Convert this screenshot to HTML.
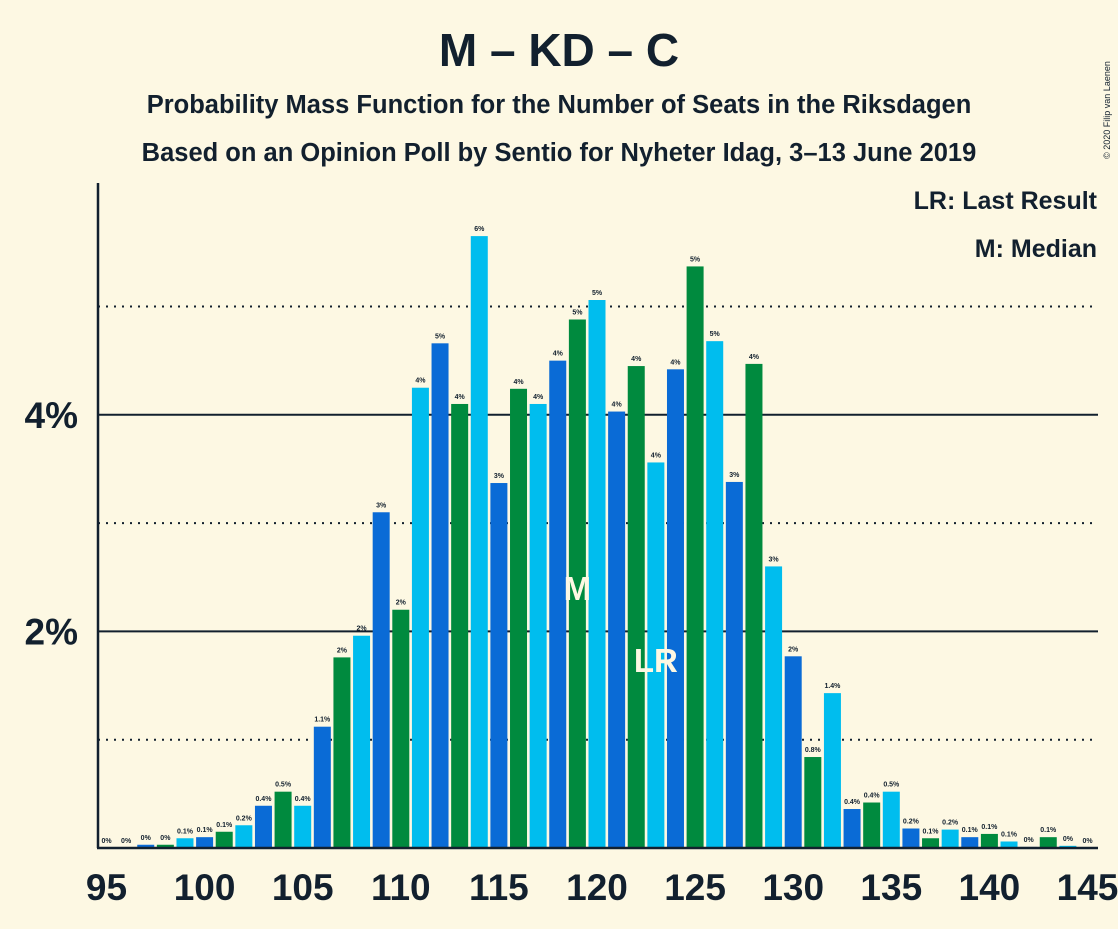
<!DOCTYPE html>
<html><head><meta charset="utf-8"><style>
body{margin:0;background:#fdf8e3;font-family:"Liberation Sans",sans-serif;}
svg text{font-family:"Liberation Sans",sans-serif;}
</style></head><body>
<svg id="c" width="1118" height="924">
<rect width="1118" height="924" fill="#fdf8e3"/>
<text x="559" y="66" text-anchor="middle" font-size="46" font-weight="bold" fill="#12202e">M – KD – C</text>
<text x="559" y="113" text-anchor="middle" font-size="25.5" font-weight="bold" fill="#12202e">Probability Mass Function for the Number of Seats in the Riksdagen</text>
<text x="559" y="161" text-anchor="middle" font-size="25.5" font-weight="bold" fill="#12202e">Based on an Opinion Poll by Sentio for Nyheter Idag, 3–13 June 2019</text>
<text x="1110" y="110" font-size="9" fill="#12202e" transform="rotate(-90 1110 110)" text-anchor="middle">© 2020 Filip van Laenen</text>
<text x="1097" y="209" text-anchor="end" font-size="25" font-weight="bold" fill="#12202e">LR: Last Result</text>
<text x="1097" y="257" text-anchor="end" font-size="25" font-weight="bold" fill="#12202e">M: Median</text>
<g id="grid"></g><g id="bars"></g><g id="labels"></g>
<line x1="98" y1="183" x2="98" y2="848" stroke="#12202e" stroke-width="2.5"/>
<line x1="97" y1="848" x2="1098" y2="848" stroke="#12202e" stroke-width="2.5"/>
</svg>
<script>
const seats=[95,96,97,98,99,100,101,102,103,104,105,106,107,108,109,110,111,112,113,114,115,116,117,118,119,120,121,122,123,124,125,126,127,128,129,130,131,132,133,134,135,136,137,138,139,140,141,142,143,144,145];
const probs=[0,0,0.03,0.03,0.09,0.1,0.15,0.21,0.39,0.52,0.39,1.12,1.76,1.96,3.1,2.2,4.25,4.66,4.1,5.65,3.37,4.24,4.1,4.5,4.88,5.06,4.03,4.45,3.56,4.42,5.37,4.68,3.38,4.47,2.6,1.77,0.84,1.43,0.36,0.42,0.52,0.18,0.09,0.17,0.1,0.13,0.06,0.01,0.1,0.02,0];
const valueLabels=["0%","0%","0%","0%","0.1%","0.1%","0.1%","0.2%","0.4%","0.5%","0.4%","1.1%","2%","2%","3%","2%","4%","5%","4%","6%","3%","4%","4%","4%","5%","5%","4%","4%","4%","4%","5%","5%","3%","4%","3%","2%","0.8%","1.4%","0.4%","0.4%","0.5%","0.2%","0.1%","0.2%","0.1%","0.1%","0.1%","0%","0.1%","0%","0%"];
const yTicks=[2,4];
const yMinor=[1,3,5];
const xTicks=[95,100,105,110,115,120,125,130,135,140,145];
const medianSeat=119, lastResultSeat=123;
const NS="http://www.w3.org/2000/svg";
const X=s=>106.5+(s-95)*19.62;
const Y=p=>848-p*108.3;
const colors=["#00bdee","#0a6bd6","#008a3e"];
function mk(t,a,p){const e=document.createElementNS(NS,t);for(const k in a)e.setAttribute(k,a[k]);p.appendChild(e);return e;}
const svg=document.getElementById('c'),grid=document.getElementById('grid'),bars=document.getElementById('bars'),labels=document.getElementById('labels');
yMinor.forEach(v=>{const l=mk('line',{x1:98,x2:1098,y1:Y(v),y2:Y(v),stroke:'#12202e','stroke-width':2,'stroke-dasharray':'2,6'},grid);

});
yTicks.forEach(v=>{const l=mk('line',{x1:98,x2:1098,y1:Y(v),y2:Y(v),stroke:'#12202e','stroke-width':2},grid);


const t=mk('text',{x:78,y:Y(v)+13,'text-anchor':'end','font-size':37,'font-weight':'bold',fill:'#12202e'},grid);t.textContent=v+'%';

});
xTicks.forEach(v=>{const t=mk('text',{x:X(v),y:900,'text-anchor':'middle','font-size':37,'font-weight':'bold',fill:'#12202e'},grid);t.textContent=v;

});
seats.forEach((s,i)=>{const p=probs[i];
if(p>0){const r=mk('rect',{x:X(s)-8.5,y:Y(p),width:17,height:848-Y(p),fill:colors[s%3]},bars);

}
const t=mk('text',{x:X(s),y:Y(p)-5,'text-anchor':'middle','font-size':7,'font-weight':'bold',fill:'#12202e'},labels);t.textContent=valueLabels[i];

});
const m=mk('text',{x:X(medianSeat),y:600,'text-anchor':'middle','font-size':33,'font-weight':'bold',fill:'#fdf8e3'},labels);m.textContent='M';


const lr=mk('text',{x:X(lastResultSeat),y:672,'text-anchor':'middle','font-size':33,'font-weight':'bold',fill:'#fdf8e3'},labels);lr.textContent='LR';


</script>
</body></html>
